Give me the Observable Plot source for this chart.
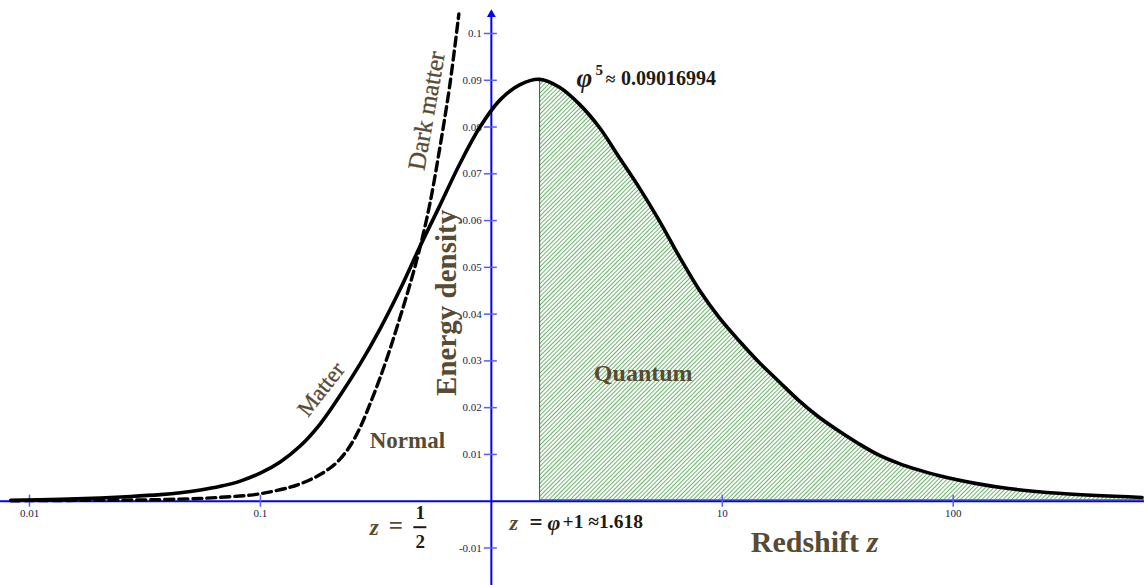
<!DOCTYPE html>
<html>
<head>
<meta charset="utf-8">
<script src="https://cdn.jsdelivr.net/npm/d3@7"></script>
<script src="https://cdn.jsdelivr.net/npm/@observablehq/plot@0.6"></script>
<style>
  html, body { margin: 0; padding: 0; background: #fff; }
  #chart svg { display: block; }
</style>
</head>
<body>
<div id="chart"></div>
<script>
// ---- data ----
const PHI = 1.618034;
const PEAK = 0.09016994;

// Matter curve (solid)
const matterZ = [0.0083, 0.01365, 0.0203, 0.0274, 0.0369, 0.0450, 0.0550, 0.0671, 0.0818, 0.0998, 0.1218, 0.1486, 0.1813, 0.2212, 0.2699, 0.3293, 0.4017, 0.4901, 0.5980, 0.7296, 0.8901, 1.0861, 1.3251, 1.618034,
  1.972, 2.404, 2.938, 3.581, 4.375, 5.333, 6.516, 7.943, 9.683, 11.83, 14.42, 17.58, 21.48, 26.18, 31.99, 38.99, 47.53, 58.08, 70.79, 86.30, 128.5, 173.8, 285.8, 657.7];
const matterV = [0.0002, 0.0004, 0.0007, 0.0010, 0.0014, 0.0018, 0.0024, 0.0032, 0.0043, 0.0060, 0.0084, 0.0118, 0.0165, 0.0226, 0.0293, 0.0368, 0.0452, 0.0544, 0.0632, 0.0721, 0.0799, 0.0857, 0.0890, 0.0902,
  0.0885, 0.0849, 0.0799, 0.0735, 0.0670, 0.0600, 0.0523, 0.0452, 0.0393, 0.0343, 0.0297, 0.0256, 0.0215, 0.0180, 0.0150, 0.0123, 0.0099, 0.0081, 0.0067, 0.0055, 0.0037, 0.0027, 0.0017, 0.0008];

// Dark matter curve (dashed)
const darkZ = [0.0083, 0.0203, 0.0334, 0.0550, 0.0705, 0.0905, 0.1104, 0.1346, 0.1486, 0.1643, 0.1813, 0.2004, 0.2212, 0.2444, 0.2699, 0.2983, 0.3293, 0.3639, 0.4017, 0.4440, 0.4901, 0.5418, 0.5980, 0.6610, 0.7233];
const darkV = [0.0001, 0.0002, 0.0003, 0.0006, 0.0009, 0.0013, 0.0020, 0.0030, 0.0037, 0.0046, 0.0057, 0.0071, 0.0090, 0.0118, 0.0157, 0.0208, 0.0263, 0.0325, 0.0392, 0.0463, 0.0541, 0.0636, 0.0755, 0.0890, 0.1042];

// Axis ticks
const xTickValues = [0.01, 0.1, 10, 100];
const xTickLabels = ["0.01", "0.1", "10", "100"];
const yTickValues = [0.1, 0.09, 0.08, 0.07, 0.06, 0.05, 0.04, 0.03, 0.02, 0.01, -0.01];
const yTickLabels = ["0.1", "0.09", "0.08", "0.07", "0.06", "0.05", "0.04", "0.03", "0.02", "0.01", "-0.01"];

// ---- build tables ----
const matter = matterZ.map((z, i) => ({z, v: matterV[i]}));
const dark = darkZ.map((z, i) => ({z, v: darkV[i]}));
const quantum = matter.filter(d => d.z >= PHI - 1e-6);
const xTicks = xTickValues.map((v, i) => ({v, label: xTickLabels[i]}));
const yTicks = yTickValues.map((v, i) => ({v, label: yTickLabels[i]}));

const OLIVE = "#574b33";
const DARK = "#1e1a14";
const BLUE = "#0000ff";
const TICKBLUE = "#5a5aff";
const FONT = "Liberation Serif";

const one = [0];

const svg = Plot.plot({
  width: 1144,
  height: 585,
  style: {fontFamily: FONT, background: "white", overflow: "visible"},
  x: {type: "log", domain: [0.01, 100], range: [29, 952.7], axis: null},
  y: {domain: [0, 0.1], range: [500.7, 33], axis: null},
  marks: [
    // hatched "Quantum" region
    Plot.areaY(quantum, {x: "z", y: "v", fill: "url(#hatch)", curve: "catmull-rom"}),
    Plot.ruleX([PHI], {y1: 0, y2: PEAK, stroke: "#2d5a2d", strokeWidth: 1}),
    Plot.ruleY([0], {x1: PHI, x2: 700, stroke: "#2e8b2e", strokeWidth: 1, dy: -1.5}),

    // axes
    Plot.ruleY([0], {x1: 0.007, x2: 1000, stroke: BLUE, strokeWidth: 2}),
    Plot.ruleX([1], {y1: 0.1036, y2: -0.02, stroke: BLUE, strokeWidth: 2}),
    Plot.dot([1], {x: d => d, y: 0.1041, symbol: "triangle", r: 3.3, fill: BLUE, stroke: "none"}),
    Plot.ruleY(yTicks, {y: "v", x1: 1, x2: 1, insetLeft: -7, insetRight: -6, stroke: TICKBLUE, strokeWidth: 1.5}),
    Plot.ruleX(xTicks, {x: "v", y1: 0, y2: 0, insetTop: -6, insetBottom: -6, stroke: TICKBLUE, strokeWidth: 1.5}),
    Plot.text(yTicks, {x: 1, y: "v", text: "label", dx: -9.5, textAnchor: "end", fontSize: 11, fill: "#1c1c48"}),
    Plot.text(xTicks, {x: "v", y: 0, text: "label", dy: 12, fontSize: 11, fill: "#1c1c48"}),

    // curves
    Plot.line(dark, {x: "z", y: "v", stroke: "black", strokeWidth: 3.4, strokeDasharray: "9,5", curve: "catmull-rom"}),
    Plot.line(matter, {x: "z", y: "v", stroke: "black", strokeWidth: 3.6, curve: "catmull-rom"}),

    // peak annotation
    Plot.text(["φ"], {x: PHI, y: PEAK, text: d => d, dx: 37, dy: -1, textAnchor: "start", fontSize: 27, fontWeight: "bold", fontStyle: "italic", fill: DARK}),
    Plot.text(["5"], {x: PHI, y: PEAK, text: d => d, dx: 56, dy: -9, textAnchor: "start", fontSize: 15, fontWeight: "bold", fill: DARK}),
    Plot.text(["≈"], {x: PHI, y: PEAK, text: d => d, dx: 66, dy: 0, textAnchor: "start", fontSize: 18, fontWeight: "bold", fill: DARK}),
    Plot.text(["0.09016994"], {x: PHI, y: PEAK, text: d => d, dx: 81.5, dy: -0.5, textAnchor: "start", fontSize: 20, fontWeight: "bold", fill: DARK}),

    // curve labels
    Plot.text(["Dark matter"], {x: 0.525, y: 0.0835, text: d => d, rotate: -80, fontSize: 25, fill: OLIVE, stroke: OLIVE, strokeWidth: 0.3}),
    Plot.text(["Matter"], {x: 0.183, y: 0.0239, text: d => d, rotate: -52, fontSize: 23, fill: OLIVE, stroke: OLIVE, strokeWidth: 0.3}),
    Plot.text(["Normal"], {x: 0.4329, y: 0.0130, text: d => d, fontSize: 23, fontWeight: "bold", fill: OLIVE}),
    Plot.text(["Quantum"], {x: 4.546, y: 0.0273, text: d => d, fontSize: 24, fontWeight: "bold", fill: OLIVE}),
    Plot.text(["Energy density"], {x: 0.639, y: 0.0424, text: d => d, rotate: -90, fontSize: 29, fontWeight: "bold", fill: OLIVE}),

    // x axis title
    Plot.text(["Redshift"], {x: 13.28, y: -0.00883, text: d => d, textAnchor: "start", fontSize: 30, fontWeight: "bold", fill: OLIVE}),
    Plot.text(["z"], {x: 42.2, y: -0.00883, text: d => d, textAnchor: "start", fontSize: 30, fontWeight: "bold", fontStyle: "italic", fill: OLIVE}),

    // z = 1/2
    Plot.text(["z"], {x: 0.5, y: 0, text: d => d, dx: -52, dy: 26, textAnchor: "start", fontSize: 23, fontWeight: "bold", fontStyle: "italic", fill: OLIVE}),
    Plot.text(["="], {x: 0.5, y: 0, text: d => d, dx: -33, dy: 25, textAnchor: "start", fontSize: 25, fontWeight: "bold", fill: OLIVE}),
    Plot.text(["1"], {x: 0.5, y: 0, text: d => d, dx: -1.5, dy: 12, fontSize: 19, fontWeight: "bold", fill: DARK}),
    Plot.text(["2"], {x: 0.5, y: 0, text: d => d, dx: -1.5, dy: 41, fontSize: 19, fontWeight: "bold", fill: DARK}),
    Plot.ruleY(one, {y: 0, x1: 0.5, x2: 0.5, insetLeft: -8, insetRight: -5, dy: 26, stroke: DARK, strokeWidth: 2}),

    // z = φ + 1 ≈ 1.618
    Plot.text(["z"], {x: PHI, y: 0, text: d => d, dx: -30, dy: 22, textAnchor: "start", fontSize: 22, fontWeight: "bold", fontStyle: "italic", fill: OLIVE}),
    Plot.text(["="], {x: PHI, y: 0, text: d => d, dx: -10, dy: 21, textAnchor: "start", fontSize: 23, fontWeight: "bold", fill: DARK}),
    Plot.text(["φ"], {x: PHI, y: 0, text: d => d, dx: 8, dy: 22, textAnchor: "start", fontSize: 22, fontWeight: "bold", fontStyle: "italic", fill: DARK}),
    Plot.text(["+1 ≈1.618"], {x: PHI, y: 0, text: d => d, dx: 23, dy: 21, textAnchor: "start", fontSize: 19.5, fontWeight: "bold", fill: DARK})
  ]
});

// hatch pattern definition
const defs = d3.select(svg).insert("defs", ":first-child");
const pat = defs.append("pattern")
  .attr("id", "hatch")
  .attr("patternUnits", "userSpaceOnUse")
  .attr("width", 3)
  .attr("height", 3)
  .attr("patternTransform", "rotate(45)");
pat.append("rect").attr("width", 3).attr("height", 3).attr("fill", "white");
pat.append("line")
  .attr("x1", 0.5).attr("y1", 0).attr("x2", 0.5).attr("y2", 3)
  .attr("stroke", "#4fa84f").attr("stroke-width", 0.85);

document.getElementById("chart").appendChild(svg);
</script>
</body>
</html>
